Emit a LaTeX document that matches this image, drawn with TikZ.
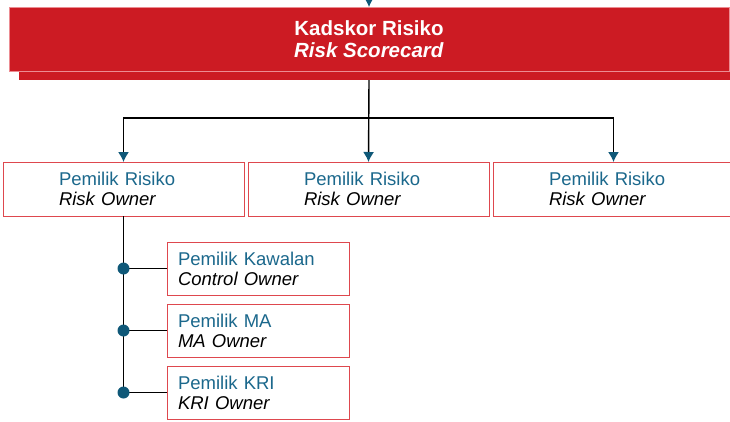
\documentclass[tikz,border=0pt]{standalone}
\usepackage{fontspec}
\setmainfont{Liberation Sans}
\usepackage{tikz}
\usetikzlibrary{positioning, arrows.meta}
\definecolor{cardred}{RGB}{204,27,35}
\definecolor{cardpink}{RGB}{236,140,146}
\definecolor{boxred}{RGB}{222,72,78}
\definecolor{ownerblue}{RGB}{27,104,140}
\definecolor{tipblue}{RGB}{15,88,120}
\tikzset{
x=1pt, y=-1pt, % pixel-like units, y grows downwards
flow/.style={line width=1.4pt, black, -{Latex[length=10pt, width=11pt, color=tipblue]}}, % connectors with arrow head
link/.style={line width=1.4pt, black}, % plain connectors
card/.style={fill=cardred, draw=cardpink, line width=1pt, text=white, align=center,
  minimum width=720pt, minimum height=64pt, outer sep=0pt, font=\fontsize{20.5}{22}\selectfont\bfseries}, % the scorecard box
owner/.style={draw=boxred, line width=1pt, fill=white, align=left, text width=129pt, inner xsep=56pt,
  minimum height=54pt, outer sep=0pt, font=\fontsize{18.5}{20}\selectfont}, % risk owner boxes
subowner/.style={owner, minimum height=53pt, text width=160pt, inner xsep=11pt}, % owners below
dot/.style={circle, fill=tipblue, inner sep=0pt, minimum size=12pt}, % junction dots
}
\newcommand{\twoline}[2]{\textcolor{ownerblue}{#1}\\\textit{#2}}

\begin{document}
\begin{tikzpicture}
            \useasboundingbox (0,0) rectangle (730,421);
            % scorecard with its shadow
            \fill[cardred] (19,15) rectangle (740,80);
            \node[card] (card) at (369,39) {Kadskor Risiko\\\textit{Risk Scorecard}};
            \coordinate (feed) at (369,-12);
            \coordinate (cardbase) at (369,80);
            \coordinate (split) at (369,118);

            % risk owners
            \node[owner] (own1) at (123.5,189) {\twoline{Pemilik Risiko}{Risk Owner}};
            \node[owner, right=4pt of own1] (own2) {\twoline{Pemilik Risiko}{Risk Owner}};
            \node[owner, right=4pt of own2] (own3) {\twoline{Pemilik Risiko}{Risk Owner}};

            % owners below the first risk owner
            \node[subowner] (ctrl) at (258,268.5) {\twoline{Pemilik Kawalan}{Control Owner}};
            \node[subowner, below=9pt of ctrl] (ma) {\twoline{Pemilik MA}{MA Owner}};
            \node[subowner, below=9pt of ma] (kri) {\twoline{Pemilik KRI}{KRI Owner}};

            \draw[flow] (feed) -- (card.north);
            \draw[flow] (cardbase) -- (own2.north);
            \draw[flow] (split) -| (own1.north);
            \draw[flow] (split) -| (own3.north);

            \coordinate (j1) at (own1.south |- ctrl.west);
            \coordinate (j2) at (own1.south |- ma.west);
            \coordinate (j3) at (own1.south |- kri.west);
            \draw[link] (own1.south) -- (j3);
            \draw[link]
                (j1) -- (ctrl.west)
                (j2) -- (ma.west)
                (j3) -- (kri.west);
            \node[dot] at (j1) {};
            \node[dot] at (j2) {};
            \node[dot] at (j3) {};
            \end{tikzpicture}
\end{document}
